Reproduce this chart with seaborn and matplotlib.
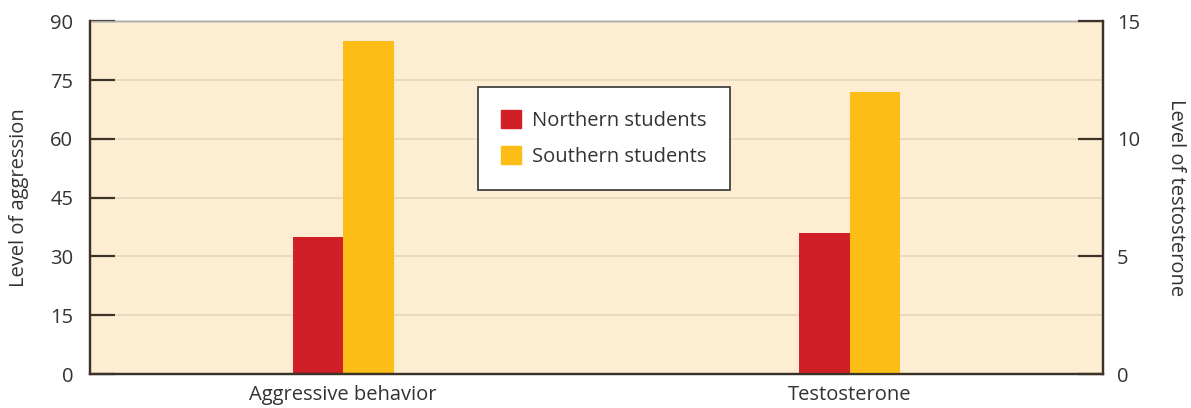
import matplotlib.pyplot as plt
import matplotlib.patches as mpatches
import pandas as pd
import seaborn as sns

# values
measures = ["Aggressive behavior", "Testosterone"]
groups = ["Northern students", "Southern students"]
aggression = [35, 85]        # left axis, Aggressive behavior
testosterone = [6.0, 12.0]   # right axis, Testosterone
left_ticks = [0, 15, 30, 45, 60, 75, 90]
right_ticks = [0, 5, 10, 15]

colors = {"Northern students": "#d11f28", "Southern students": "#fdbd17"}
bg = "#fdeed3"
dark = "#3b3327"
txt = "#333333"
fs = 14.5

sns.set_theme(style="white")
plt.rcParams["font.family"] = ["Open Sans", "DejaVu Sans"]

df_aggr = pd.DataFrame({"measure": measures[0], "group": groups, "value": aggression})
df_test = pd.DataFrame({"measure": measures[1], "group": groups, "value": testosterone})

fig, ax = plt.subplots(figsize=(11.91, 4.08), dpi=100)
fig.subplots_adjust(left=0.0756, right=0.926, top=0.948, bottom=0.083)
ax.set_facecolor(bg)

sns.barplot(data=df_aggr, x="measure", y="value", hue="group", order=measures,
            hue_order=groups, palette=colors, width=0.2, saturation=1,
            legend=False, ax=ax, zorder=3)
ax2 = ax.twinx()
sns.barplot(data=df_test, x="measure", y="value", hue="group", order=measures,
            hue_order=groups, palette=colors, width=0.2, saturation=1,
            legend=False, ax=ax2, zorder=3)

for a in (ax, ax2):
    a.set_xlim(-0.5, 1.5)
    a.set_axisbelow(False)
    for b in a.patches:
        b.set_linewidth(0)

ax.set_ylim(0, 90)
ax.set_yticks(left_ticks)
ax2.set_ylim(0, 15)
ax2.set_yticks(right_ticks)

# grid lines at every left tick
for v in left_ticks[1:-1]:
    ax.axhline(v, color="#e7d6b7", lw=1.2, zorder=1)

ax.tick_params(axis="y", direction="in", length=18, width=1.6, color=dark,
               labelsize=fs, labelcolor=txt, pad=12)
ax2.tick_params(axis="y", direction="in", length=18, width=1.6, color=dark,
                labelsize=fs, labelcolor=txt, pad=10)
ax.tick_params(axis="x", length=0, labelsize=fs, labelcolor=txt, pad=8)

ax.set_xlabel("")
ax.set_ylabel("Level of aggression", fontsize=fs, color=txt, labelpad=15)
ax2.set_ylabel("Level of testosterone", fontsize=fs, color=txt,
               rotation=270, labelpad=33)

for a in (ax, ax2):
    for side in ["left", "right", "bottom"]:
        a.spines[side].set_color(dark)
        a.spines[side].set_linewidth(1.6)
        a.spines[side].set_zorder(4)
    a.spines["top"].set_color("#a8a8a8")
    a.spines["top"].set_linewidth(1.0)
    a.spines["top"].set_zorder(0.5)

handles = [mpatches.Patch(color=colors[g], label=g) for g in groups]
leg = ax2.legend(handles=handles, loc="upper left", bbox_to_anchor=(0.383, 0.815),
                 fontsize=fs, frameon=True, fancybox=False, handlelength=1.0,
                 handleheight=1.0, handletextpad=0.55, borderpad=1.15,
                 labelspacing=0.75, borderaxespad=0)
leg.get_frame().set_edgecolor(txt)
leg.get_frame().set_linewidth(1.2)
leg.get_frame().set_facecolor("white")
leg.get_frame().set_alpha(1)
for t in leg.get_texts():
    t.set_color(txt)

plt.savefig("out.png", dpi=100)
plt.close()
